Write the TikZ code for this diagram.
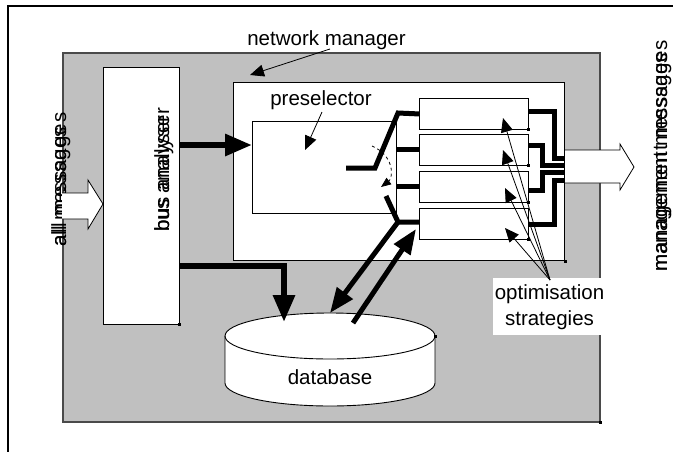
\documentclass[tikz,border=0pt]{standalone}
\usepackage{fontspec}
\setmainfont{Liberation Sans}
\usetikzlibrary{arrows.meta,calc}
\definecolor{panel}{HTML}{C0C0C0}
\definecolor{panelline}{HTML}{4A4A4A}
\begin{document}
\begin{tikzpicture}[x=1pt,y=-1pt,
  lbl/.style={font=\fontsize{20.5pt}{27pt}\selectfont, inner sep=0pt, text=black},
  vlbl/.style={lbl, rotate=90, anchor=base west},
  panelbox/.style={draw=panelline, line width=1.6pt, fill=panel, anchor=north west, inner sep=0pt},
  whitebox/.style={draw=black, line width=0.9pt, fill=white, anchor=north west, inner sep=0pt},
  stratbox/.style={whitebox, minimum width=109pt, minimum height=31pt},
  wire/.style={line width=5pt},
  heavywire/.style={line width=6pt},
  bigtip/.style={-{Triangle[length=27pt,width=21pt]}},
  midtip/.style={-{Triangle[length=25pt,width=19pt]}},
  thintip/.style={-{Triangle[length=14pt,width=12pt]}},
  pointer/.style={line width=0.8pt, thintip},
  hollow/.style={fill=white, draw=black, line width=0.8pt},
]
\useasboundingbox (0,0) rectangle (673,451);

% outer frame (top and left edges)
\draw[line width=2pt] (8,452) -- (8,6) -- (674,6);

% network manager panel and its blocks
\node[panelbox, minimum width=537pt, minimum height=369pt] (nm) at (62,52) {};
\node[whitebox, minimum width=76pt, minimum height=257pt] (bus) at (103,67) {};
\node[whitebox, line width=1.1pt, minimum width=331pt, minimum height=178pt] (core) at (233,82) {};
\node[whitebox, minimum width=144pt, minimum height=92pt] (pre) at (252,121) {};
\node[stratbox] (s1) at (419,98) {};
\node[stratbox] (s2) at (419,134) {};
\node[stratbox] (s3) at (419,171) {};
\node[stratbox] (s4) at (419,208) {};

% small corner marks
\foreach \c in {bus.south east, core.south east, nm.south east, s1.south east, s2.south east, s3.south east, s4.south east}
  \fill ($(\c)+(-1.5,-1.5)$) rectangle ++(3,3);

% database cylinder
\filldraw[fill=white, line width=0.9pt] (225,336) -- (225,383)
  arc[start angle=180, end angle=360, x radius=105pt, y radius=23pt] -- (435,336)
  arc[start angle=0, end angle=180, x radius=105pt, y radius=23pt] -- cycle;
\draw[line width=0.9pt] (225,336) arc[start angle=180, end angle=360, x radius=105pt, y radius=23pt];
\fill (433.5,334.5) rectangle ++(3,3);
\node[lbl, anchor=base] (db) at (330,384) {database};
\coordinate (dbtop) at (330,313);
\coordinate (dbin) at (284,322);
\coordinate (dbout) at (353,323);

% labels
\node[lbl, anchor=base] (nmlabel) at (326.5,45) {network manager};
\node[lbl, anchor=base] (prelabel) at (321,105) {preselector};
\node[fill=white, minimum width=113pt, minimum height=57pt, anchor=north west, inner sep=0pt] (opt) at (493,278) {};
\node[lbl, anchor=base] (optA) at (549.5,299) {optimisation};
\node[lbl, anchor=base] (optB) at (549.5,325) {strategies};

% rotated labels, each printed twice with different spacing
\node[vlbl] (allmsg) at (66,247) {all messages};
\node[vlbl] (allmsgb) at (66,247) {\addfontfeature{LetterSpace=7.5}all messages};
\node[vlbl] (buslabel) at (169,232) {bus analyser};
\node[vlbl] (buslabelb) at (169,232) {\addfontfeature{LetterSpace=4}bus analyser};
\node[vlbl] (mgmt) at (667,272) {management messages};
\node[vlbl] (mgmtb) at (667,272) {\addfontfeature{LetterSpace=3.8}management messages};

% hollow input and output arrows
\filldraw[hollow] (62,193) -- (88,193) -- (88,180) -- (bus.west |- 0,204) -- (88,229) -- (88,219) -- (62,219);
\filldraw[hollow] (core.east |- 0,150) -- (620,150) -- (620,144) -- (634,167) -- (620,190) -- (620,183) -- (core.east |- 0,183);

% pointers from labels
\draw[pointer] (330,49) -- ($(core.north west)+(17,-7)$);
\draw[pointer] (322,112) -- (305,150);
\coordinate (optsrc) at (550,280);
\draw[pointer] (optsrc) -- (503,118);
\draw[pointer] (optsrc) -- (503,150);
\draw[pointer] (optsrc) -- (505,188);
\draw[pointer] (optsrc) -- (505,228);

% bus analyser outputs
\draw[heavywire, bigtip] (bus.east |- 0,145) -- (pre.west |- 0,145);
\draw[heavywire, bigtip] (bus.east |- 0,266) -| (dbin);

% switch inside the preselector
\coordinate (swin) at (346,168);
\coordinate (swpivot) at (375,168);
\coordinate (swlow) at (398,222);
\draw[wire] (swin) -- (swpivot) -- (398,113) -- (s1.west);
\draw[wire] ($(s2.west)+(-22,0)$) -- (s2.west);
\draw[wire] ($(s3.west)+(-22,0)$) -- (s3.west);
\draw[wire] (386,196) -- (swlow) -- (swlow -| s4.west);
\draw[dashed, line width=0.8pt, -{Triangle[length=10pt,width=8pt]}] (372,146) .. controls (395,156) and (393,178) .. (381,187);

% links with the database
\draw[wire, midtip] (swlow) -- (dbtop);
\draw[wire, midtip] (dbout) -- (416,229);

% strategy outputs merging into the output arrow
\draw[wire] ($(s1.east)+(0,-2.5)$) -| (554,158) -- (core.east |- 0,158);
\draw[wire] ($(s2.east)+(0,-4.5)$) -| (542,165) -- (core.east |- 0,165);
\draw[wire] ($(s3.east)+(0,4)$) -| (542,172) -- (core.east |- 0,172);
\draw[wire] ($(s4.east)+(0,0.5)$) -| (554,180) -- (core.east |- 0,180);
\end{tikzpicture}
\end{document}
